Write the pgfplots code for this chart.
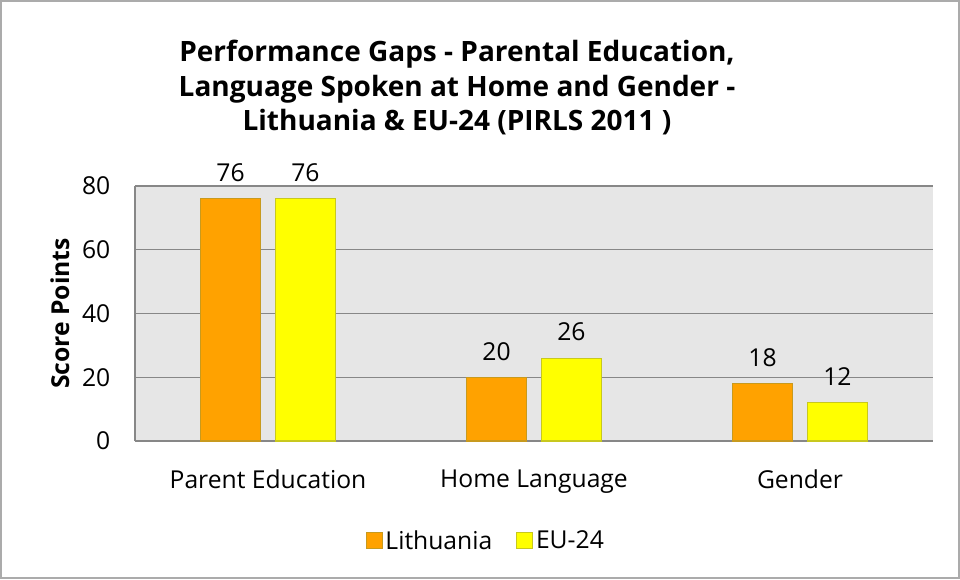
\documentclass[border=0pt]{standalone}
\usepackage{pgfplots}
\pgfplotsset{compat=1.18}
\usepackage{fontspec}
\setmainfont{Open Sans}
\definecolor{lorange}{HTML}{FFA200}
\definecolor{lorangeedge}{HTML}{C89A1E}
\definecolor{eyellow}{HTML}{FFFF00}
\definecolor{eyellowedge}{HTML}{C8C81E}
\definecolor{plotbg}{HTML}{E6E6E6}
\definecolor{gridc}{HTML}{878787}
\begin{document}
\begin{tikzpicture}
\path[use as bounding box] (-101.25pt,-103.5pt) rectangle (618.75pt,330.75pt);
\draw[color=gridc!70, line width=0.9pt] (-100.5pt,-102.75pt) rectangle (618pt,330pt);
\begin{axis}[
  scale only axis,
  width=598.5pt, height=191.25pt,
  ymin=0, ymax=80,
  xmin=-0.5, xmax=2.5,
  ytick={0,20,40,60,80},
  xtick=data,
  xticklabels={Parent Education, Home Language, Gender},
  axis x line*=bottom, axis y line*=left,
  axis line style={gridc, line width=0.9pt, -},
  x axis line style={-}, y axis line style={-},
  major tick length=0pt,
  ymajorgrids, grid style={gridc, line width=0.9pt},
  axis background/.style={fill=plotbg},
  tick label style={font=\fontsize{18.5}{22}\selectfont, text=black},
  /pgf/number format/assume math mode=true,
  yticklabel style={xshift=-15pt},
  xticklabel style={yshift=-18pt},
  ybar, bar width=45pt,
  nodes near coords,
  every node near coord/.append style={font=\fontsize{18.5}{22}\selectfont, text=black, yshift=9pt},
  legend style={at={(axis description cs:0.44,-0.392)}, anchor=center, draw=none, fill=none,
    legend columns=2, font=\fontsize{18.5}{22}\selectfont,
    /tikz/every even column/.append style={column sep=16pt}},
  legend image code/.code={\draw[#1, line width=0.8pt] (0pt,-6pt) rectangle (12pt,6pt);},
  legend cell align=left,
]
\addplot[bar shift=-28.1pt, fill=lorange, draw=lorangeedge, line width=0.8pt]
  coordinates {(0,76) (1,20) (2,18)};
\addlegendentry{Lithuania}
\addplot[bar shift=28.1pt, fill=eyellow, draw=eyellowedge, line width=0.8pt]
  coordinates {(0,76) (1,26) (2,12)};
\addlegendentry{EU-24}
\end{axis}
\node[rotate=90, font=\bfseries\fontsize{18.5}{22}\selectfont] at (-56.25pt,95.6pt) {Score Points};
\node[align=center, font=\bfseries\fontsize{21}{26}\selectfont] at (241.5pt,265pt)
  {Performance Gaps - Parental Education,\\Language Spoken at Home and Gender -\\Lithuania \& EU-24 (PIRLS 2011 )};
\end{tikzpicture}
\end{document}
